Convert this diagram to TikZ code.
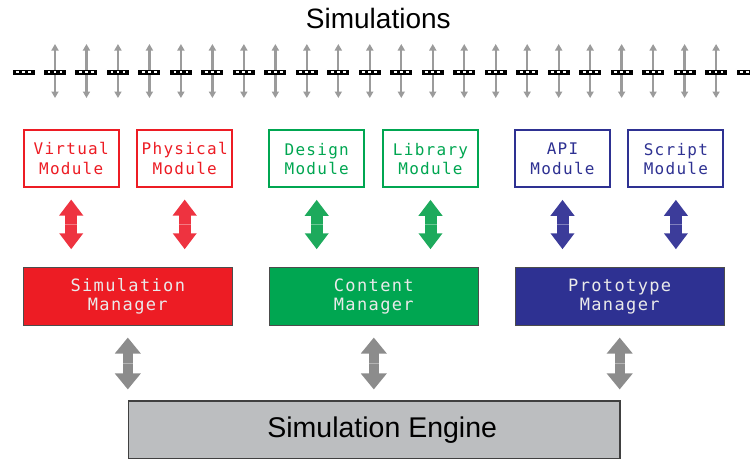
\documentclass[tikz,border=0pt]{standalone}
\usepackage{fontspec}
\setmainfont{Liberation Sans}
\newfontfamily\monof[LetterSpace=8]{DejaVu Sans Mono}
\usetikzlibrary{arrows.meta,calc}
\definecolor{cred}{HTML}{ED1C24}
\definecolor{cgreen}{HTML}{00A651}
\definecolor{cblue}{HTML}{2E3192}
\definecolor{ared}{HTML}{EE3340}
\definecolor{agreen}{HTML}{1DAA5C}
\definecolor{ablue}{HTML}{3C3C9A}
\definecolor{agray}{HTML}{8C8C8C}
\definecolor{tgray}{HTML}{9B9B9B}
\definecolor{engfill}{HTML}{BCBEC0}
\definecolor{mgrtext}{HTML}{EAEAEA}
\tikzset{
  modbox/.style={draw=#1, text=#1, line width=2pt, fill=white, minimum width=95pt, minimum height=57pt,
    inner sep=0pt, align=center, font=\monof\fontsize{16}{19.5}\selectfont},
  mgrbox/.style={draw=black!70, fill=#1, text=mgrtext, line width=1pt, minimum width=209pt, minimum height=58.5pt,
    inner sep=0pt, align=center, font=\monof\fontsize{17}{19.5}\selectfont},
  engbox/.style={draw=black!75, fill=engfill, line width=1.2pt, minimum width=491.7pt, minimum height=57.5pt,
    inner sep=0pt, font=\fontsize{28.5}{30}\selectfont},
  dblarrow/.style={draw=#1, line width=12pt, {Triangle[width=23pt,length=16pt]}-{Triangle[width=23pt,length=16pt]}},
  grayarrow/.style={draw=agray, line width=10pt, {Triangle[width=25pt,length=16pt]}-{Triangle[width=25pt,length=16pt]}},
  thinarrow/.style={draw=tgray, line width=2.3pt, {Triangle[width=7pt,length=6.5pt]}-{Triangle[width=7pt,length=6.5pt]}},
  seam/.style={draw=white, draw opacity=0.35, line width=0.7pt}
}
\begin{document}
\begin{tikzpicture}[x=1pt,y=-1pt]
\useasboundingbox (0,0) rectangle (750,459);
\clip (0,0) rectangle (750,459);

% title
\node[anchor=base, font=\fontsize{28}{30}\selectfont, inner sep=0pt] (title) at (378.3,28.3) {Simulations};

% top bus: arrows then segments
\foreach \i in {1,...,22} {
  \coordinate (ta\i) at ({55+(\i-1)*31.48},44);
  \coordinate (tb\i) at ({55+(\i-1)*31.48},98);
  \draw[thinarrow] (ta\i) -- (tb\i);
}
\foreach \i in {0,...,23} {
  \coordinate (seg\i) at ({23.5+\i*31.48},72.3);
  \fill[black] ($(seg\i)+(-11,-2.6)$) rectangle ($(seg\i)+(11,2.6)$);
  \foreach \d in {-6,0,6} {
    \fill[white] ($(seg\i)+(\d-1.4,-1)$) rectangle ($(seg\i)+(\d+1.4,1)$);
  }
}

% modules
\node[modbox=cred] (virt) at (71.2,158.5) {Virtual\\Module};
\node[modbox=cred] (phys) at (184.7,158.5) {Physical\\Module};
\node[modbox=cgreen] (design) at (316.7,158.8) {Design\\Module};
\node[modbox=cgreen] (lib) at (430.5,158.8) {Library\\Module};
\node[modbox=cblue] (api) at (562.5,158.8) {API\\Module};
\node[modbox=cblue] (script) at (675.9,158.8) {Script\\Module};

% managers
\node[mgrbox=cred] (simmgr) at (127.8,296.5) {Simulation\\Manager};
\node[mgrbox=cgreen] (conmgr) at (373.8,296.5) {Content\\Manager};
\node[mgrbox=cblue] (promgr) at (619.7,296.5) {Prototype\\Manager};

% engine
\node[engbox] (eng) at (374.2,429.8) {\hspace*{16pt}Simulation Engine};

% module <-> manager arrows
\foreach \m/\c in {virt/ared, phys/ared, design/agreen, lib/agreen, api/ablue, script/ablue} {
  \coordinate (\m-top) at ($(\m.south)+(0,11.5)$);
  \coordinate (\m-bot) at ($(\m.south |- simmgr.north)+(0,-17.5)$);
  \draw[dblarrow=\c] (\m-top) -- (\m-bot);
  \draw[seam] ($($(\m-top)!0.5!(\m-bot)$)+(-6,0)$) -- ($($(\m-top)!0.5!(\m-bot)$)+(6,0)$);
}

% manager <-> engine arrows
\foreach \m in {simmgr, conmgr, promgr} {
  \coordinate (\m-top) at ($(\m.south)+(0,11.3)$);
  \coordinate (\m-bot) at ($(\m.south |- eng.north)+(0,-11)$);
  \draw[grayarrow] (\m-top) -- (\m-bot);
  \draw[seam] ($($(\m-top)!0.5!(\m-bot)$)+(-5,0)$) -- ($($(\m-top)!0.5!(\m-bot)$)+(5,0)$);
}
\end{tikzpicture}
\end{document}
